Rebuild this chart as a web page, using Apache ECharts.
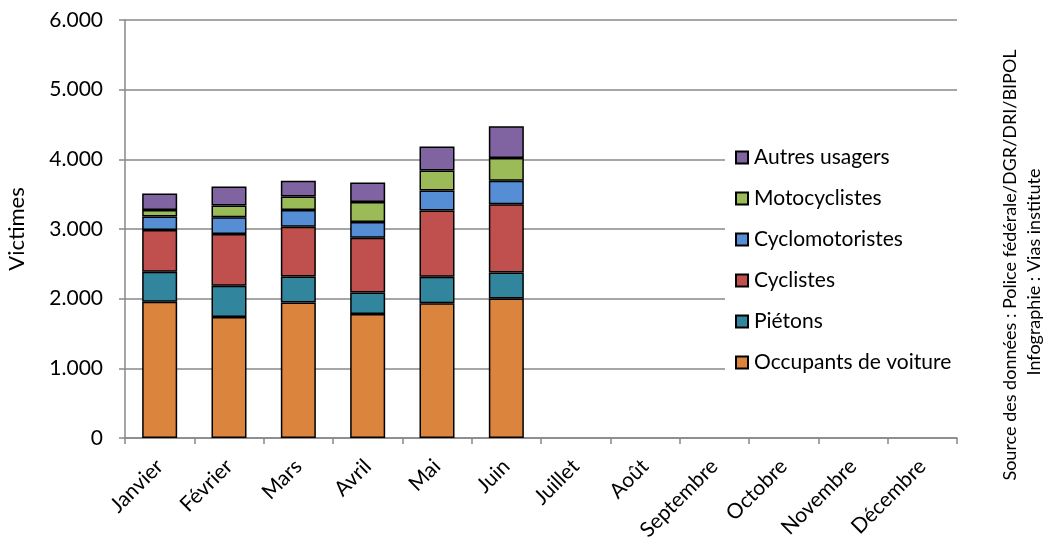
<!DOCTYPE html>
<html>
<head>
<meta charset="utf-8">
<script src="https://cdn.jsdelivr.net/npm/echarts@6/dist/echarts.min.js"></script>
<style>html,body{margin:0;padding:0;background:#fff;}#c{width:1044px;height:539px;}</style>
</head>
<body>
<div id="c"></div>
<script>
const months = ['Janvier','Février','Mars','Avril','Mai','Juin','Juillet','Août','Septembre','Octobre','Novembre','Décembre'];
const occupants = [1954, 1738, 1944, 1781, 1935, 2002];
const pietons = [432, 446, 375, 307, 379, 374];
const cyclistes = [600, 744, 715, 788, 950, 980];
const cyclomotoristes = [192, 240, 240, 225, 289, 336];
const motocyclistes = [96, 168, 192, 288, 288, 326];
const autres = [235, 274, 226, 279, 345, 456];
const yTicks = [0, 1000, 2000, 3000, 4000, 5000, 6000];

const FONT = 'Lato';
const seriesDefs = [
  ['Occupants de voiture', occupants, '#DA843E'],
  ['Piétons', pietons, '#31859C'],
  ['Cyclistes', cyclistes, '#C0504D'],
  ['Cyclomotoristes', cyclomotoristes, '#558ED5'],
  ['Motocyclistes', motocyclistes, '#9BBB59'],
  ['Autres usagers', autres, '#8064A2']
];

const chart = echarts.init(document.getElementById('c'));
chart.setOption({
  animation: false,
  textStyle: {fontFamily: FONT},
  grid: {left: 125, right: 87, top: 20, bottom: 101, containLabel: false, outerBoundsMode: 'none'},
  legend: {
    orient: 'vertical',
    left: 735,
    top: 147,
    z: 10,
    data: seriesDefs.map(s => s[0]).reverse(),
    icon: 'rect',
    itemWidth: 12,
    itemHeight: 12,
    itemGap: 20,
    padding: [0, 0, 0, 0],
    textStyle: {fontFamily: FONT, fontSize: 21, lineHeight: 21, color: '#000', padding: [0,0,0,1]},
    selectedMode: false
  },
  xAxis: {
    type: 'category',
    data: months,
    boundaryGap: true,
    axisLine: {lineStyle: {color: '#888', width: 1.5}},
    axisTick: {show: true, length: 6, lineStyle: {color: '#888', width: 1.5}},
    axisLabel: {rotate: 45, fontSize: 21, color: '#000', margin: 25, interval: 0, fontFamily: FONT}
  },
  yAxis: {
    type: 'value',
    min: yTicks[0],
    max: yTicks[yTicks.length - 1],
    interval: 1000,
    name: 'Victimes',
    nameLocation: 'middle',
    nameGap: 97,
    nameTextStyle: {fontSize: 22, color: '#000', fontFamily: FONT},
    axisLine: {show: true, lineStyle: {color: '#888', width: 1.5}},
    axisTick: {show: true, length: 6, lineStyle: {color: '#888', width: 1.5}},
    splitLine: {lineStyle: {color: '#888', width: 1.5}},
    axisLabel: {
      fontSize: 21, color: '#000', margin: 22, fontFamily: FONT,
      formatter: v => v === 0 ? '0' : (v / 1000).toFixed(3)
    }
  },
  series: seriesDefs.map(([name, data, color]) => ({
    name: name,
    type: 'bar',
    stack: 'total',
    data: data,
    barWidth: 35,
    itemStyle: {color: color, borderColor: '#000', borderWidth: 1.5}
  })),
  graphic: [
    {
      type: 'rect', z: 5, silent: true,
      shape: {x: 725, y: 142, width: 236, height: 234},
      style: {fill: '#fff'}
    },
    {
      type: 'text', x: 1010, y: 265, rotation: Math.PI / 2,
      style: {text: 'Source des données : Police fédérale/DGR/DRI/BIPOL', fontFamily: FONT, fontSize: 18, fill: '#000', align: 'center', verticalAlign: 'middle'}
    },
    {
      type: 'text', x: 1034, y: 272, rotation: Math.PI / 2,
      style: {text: 'Infographie : Vias institute', fontFamily: FONT, fontSize: 18, fill: '#000', align: 'center', verticalAlign: 'middle'}
    }
  ]
});
</script>
</body>
</html>
